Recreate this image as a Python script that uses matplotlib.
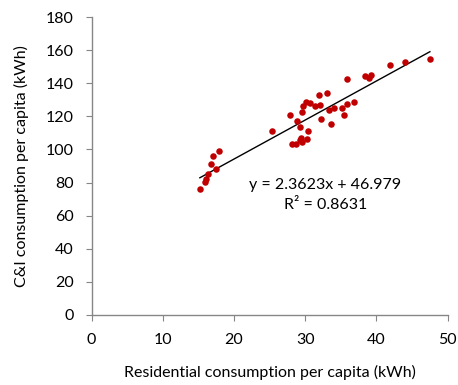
import matplotlib.pyplot as plt
import numpy as np

plt.rcParams['font.family'] = ['Lato', 'DejaVu Sans']

# Residential vs C&I consumption per capita (kWh)
res_kwh = [15.2, 15.9, 16.0, 16.3, 16.8, 17.0, 17.4, 17.9,
           25.4, 27.8, 28.1, 28.7, 29.2, 29.4, 29.5, 30.2, 30.4,
           28.9, 29.2, 29.5, 29.7, 30.1, 30.7, 31.3, 31.9, 32.1, 32.2,
           33.1, 33.3, 33.6, 34.0, 35.1, 35.5, 35.9, 35.9, 36.8,
           38.4, 39.0, 39.3, 41.9, 44.0, 47.5]
ci_kwh = [76.0, 80.1, 82.3, 85.1, 91.0, 96.2, 88.0, 99.0,
          111.2, 120.7, 103.1, 103.1, 105.5, 107.0, 104.4, 106.1, 111.1,
          117.5, 113.5, 122.9, 126.4, 128.9, 128.3, 126.3, 132.7, 126.9, 118.6,
          134.3, 123.8, 115.4, 125.2, 125.2, 120.8, 142.4, 127.7, 128.9,
          144.6, 143.0, 145.2, 151.2, 152.7, 154.7]

# linear trendline as reported on the chart
slope = 2.3623
intercept = 46.979
r2 = 0.8631

fig = plt.figure(figsize=(4.58, 3.85), dpi=100)
ax = fig.add_axes([0.2, 0.1826, 0.7775, 0.7724])

ax.scatter(res_kwh, ci_kwh, s=22, color='#C00000', zorder=3, linewidths=0)

xs = np.array([min(res_kwh), max(res_kwh)])
ax.plot(xs, slope * xs + intercept, color='black', linewidth=1, zorder=2)

ax.text(32.8, 78.5, f'y = {slope}x + {intercept}', ha='center', va='center', fontsize=11.5)
ax.text(32.8, 66.3, f'R² = {r2}', ha='center', va='center', fontsize=11.5)

ax.set_xlim(0, 50)
ax.set_ylim(0, 180)
ax.set_xticks(range(0, 51, 10))
ax.set_yticks(range(0, 181, 20))

for s in ['top', 'right']:
    ax.spines[s].set_visible(False)
for s in ['left', 'bottom']:
    ax.spines[s].set_color('#868686')
    ax.spines[s].set_linewidth(1)
ax.tick_params(direction='out', length=4, color='#868686', labelsize=11.5, pad=9)

ax.set_xlabel('Residential consumption per capita (kWh)', fontsize=11.5)
ax.set_ylabel('C&I consumption per capita (kWh)', fontsize=11.5)
ax.xaxis.set_label_coords(0.5, -0.17)
ax.yaxis.set_label_coords(-0.176, 0.5)

fig.savefig('out.png', dpi=100)
plt.close()
